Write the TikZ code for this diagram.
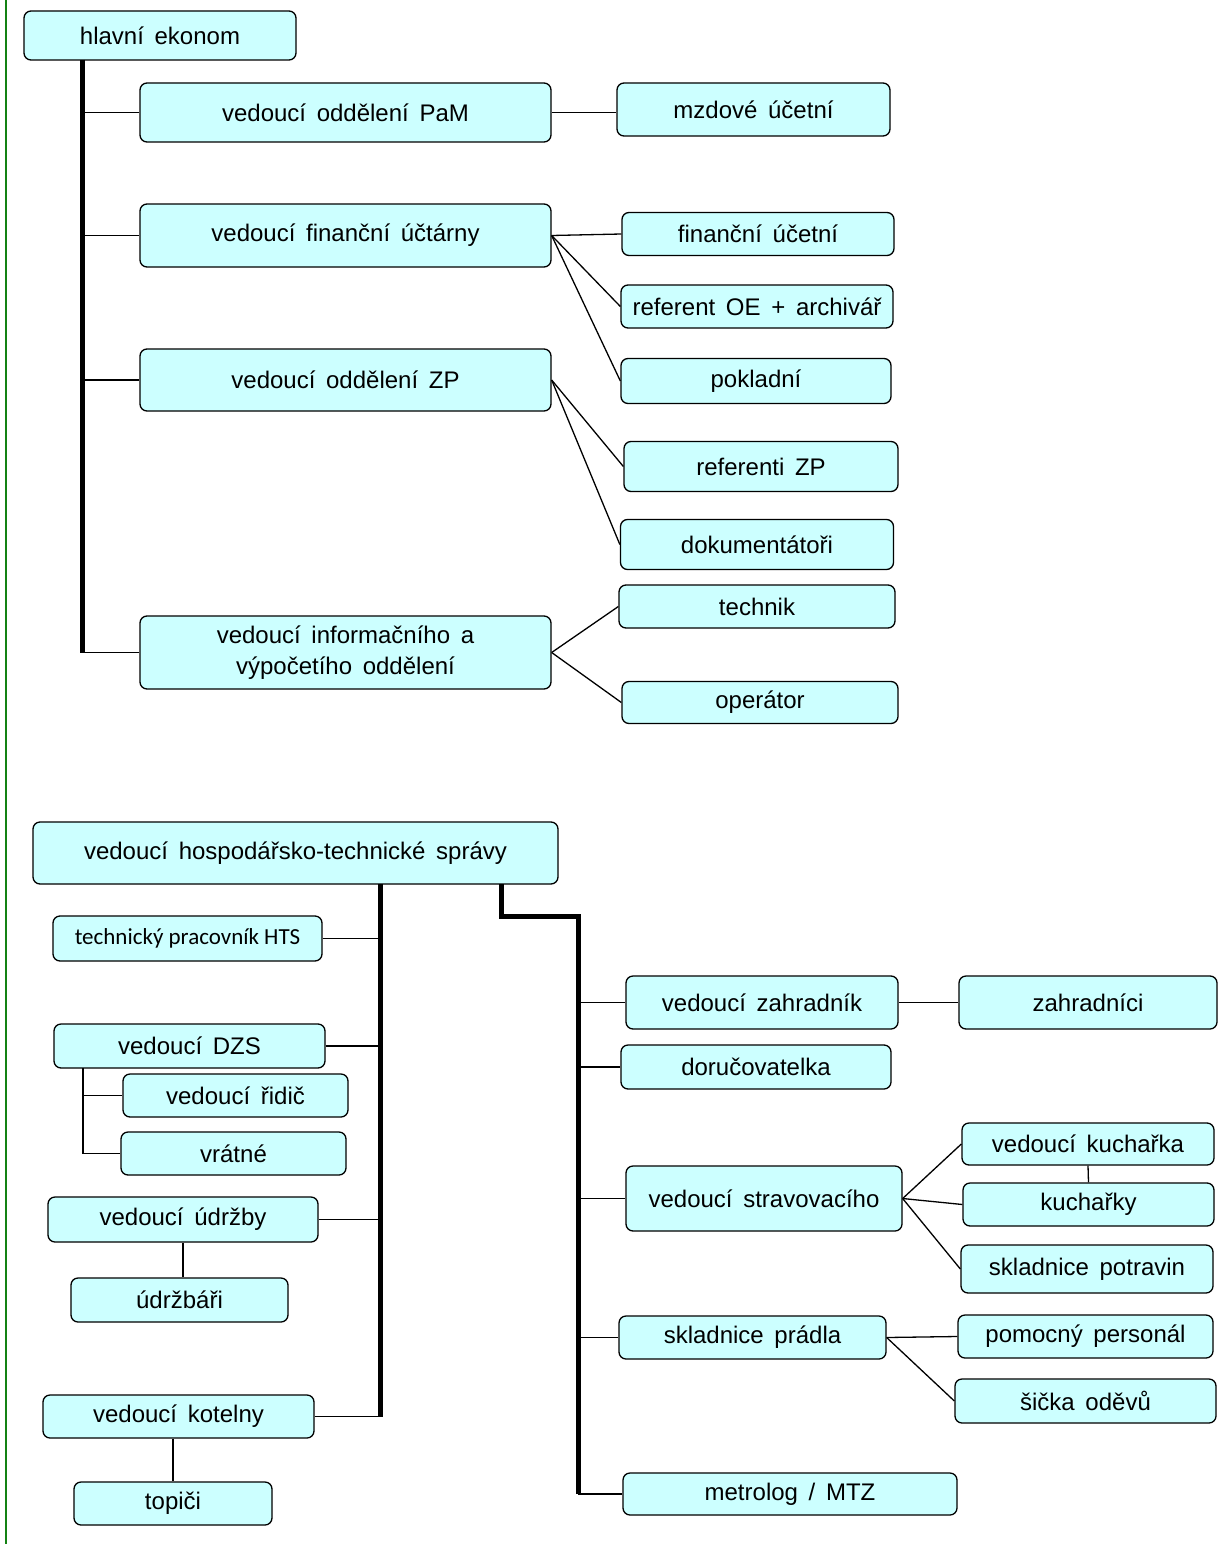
\documentclass[tikz,border=0pt]{standalone}
\usepackage{fontspec}
\setmainfont{Liberation Sans}[WordSpace=1.6]
\newfontfamily\htsfont{Carlito}
\usepackage{tikz}

\definecolor{boxfill}{RGB}{204,255,255}
\definecolor{rulegreen}{RGB}{20,130,20}

\tikzset{
	box/.style={draw, rectangle, rounded corners=7pt, fill=boxfill, line width=1.3pt,
		align=center, inner sep=0pt, font=\fontsize{24}{31}\selectfont},
	bus/.style={line width=5pt},
	link/.style={line width=1.3pt}
}

\begin{document}
\begin{tikzpicture}[x=1pt, y=-1pt]
			\useasboundingbox (0,0) rectangle (1229,1544);
			\draw[rulegreen, line width=2pt] (6,0) -- (6,1544);

			% hlavni ekonom
			\node[box, minimum width=272pt, minimum height=49pt] (ekonom) at (160,35.5) {hlavní ekonom};
			\node[box, minimum width=411pt, minimum height=59pt] (pam) at (345.5,112.5) {vedoucí oddělení PaM};
			\node[box, minimum width=273pt, minimum height=53pt] (mzdove) at (753.5,109.5) {mzdové účetní};
			\node[box, minimum width=411pt, minimum height=63pt] (uctarna) at (345.5,235.5) {vedoucí finanční účtárny};
			\node[box, minimum width=272pt, minimum height=43pt] (fucetni) at (758,234) {finanční účetní};
			\node[box, minimum width=272pt, minimum height=43pt] (referent) at (757,306.5) {referent OE + archivář};
			\node[box, minimum width=270pt, minimum height=45pt] (pokladni) at (756,381) {pokladní};
			\node[box, minimum width=411pt, minimum height=62pt] (zp) at (345.5,380) {vedoucí oddělení ZP};
			\node[box, minimum width=274pt, minimum height=50pt] (refzp) at (761,466.5) {referenti ZP};
			\node[box, minimum width=273pt, minimum height=50pt] (dokum) at (757,544.5) {dokumentátoři};
			\node[box, minimum width=411pt, minimum height=73pt] (info) at (345.5,652.5) {vedoucí informačního a\\výpočetího oddělení};
			\node[box, minimum width=276pt, minimum height=43pt] (technik) at (757,606.5) {technik};
			\node[box, minimum width=276pt, minimum height=42pt] (operator) at (760,702.5) {operátor};

			\coordinate (bus1) at (82,60);
			\draw[bus] (bus1) -- (bus1 |- info.west);
			\draw[link] (pam.west -| bus1) edge (pam.west)
				(uctarna.west -| bus1) edge (uctarna.west)
				(zp.west -| bus1) edge (zp.west)
				(info.west -| bus1) edge (info.west)
				(pam.east) edge (pam.east -| mzdove.west)
				(uctarna.east) edge (fucetni.west)
				(uctarna.east) edge (referent.west)
				(uctarna.east) edge (pokladni.west)
				(zp.east) edge (refzp.west)
				(zp.east) edge (dokum.west)
				(info.east) edge (technik.west)
				(info.east) edge (operator.west);

			% hospodarsko-technicka sprava
			\node[box, minimum width=525pt, minimum height=62pt] (hts) at (295.5,853) {vedoucí hospodářsko-technické správy};
			\node[box, minimum width=269pt, minimum height=45pt, font=\htsfont\fontsize{23}{28}\selectfont] (techhts) at (187.5,938.5) {technický pracovník HTS};
			\node[box, minimum width=271pt, minimum height=44pt] (dzs) at (189.5,1046) {vedoucí DZS};
			\node[box, minimum width=225pt, minimum height=43pt] (ridic) at (235.5,1095.5) {vedoucí řidič};
			\node[box, minimum width=225pt, minimum height=43pt] (vratne) at (233.5,1153.5) {vrátné};
			\node[box, minimum width=270pt, minimum height=45pt] (udrzby) at (183,1219.5) {vedoucí údržby};
			\node[box, minimum width=217pt, minimum height=44pt] (udrzbari) at (179.5,1300) {údržbáři};
			\node[box, minimum width=271pt, minimum height=43pt] (kotelny) at (178.5,1416.5) {vedoucí kotelny};
			\node[box, minimum width=198pt, minimum height=43pt] (topici) at (173,1503.5) {topiči};

			\node[box, minimum width=272pt, minimum height=53pt] (zahradnik) at (762,1002.5) {vedoucí zahradník};
			\node[box, minimum width=258pt, minimum height=53pt] (zahradnici) at (1088,1002.5) {zahradníci};
			\node[box, minimum width=270pt, minimum height=44pt] (dorucov) at (756,1067) {doručovatelka};
			\node[box, minimum width=276pt, minimum height=65pt] (stravov) at (764,1198.5) {vedoucí stravovacího};
			\node[box, minimum width=252pt, minimum height=42pt] (vkucharka) at (1088,1144) {vedoucí kuchařka};
			\node[box, minimum width=251pt, minimum height=43pt] (kucharky) at (1088.5,1204.5) {kuchařky};
			\node[box, minimum width=252pt, minimum height=48pt] (sklpotr) at (1087,1269) {skladnice potravin};
			\node[box, minimum width=267pt, minimum height=43pt] (pradla) at (752.5,1337.5) {skladnice prádla};
			\node[box, minimum width=255pt, minimum height=43pt] (pomocny) at (1085.5,1336.5) {pomocný personál};
			\node[box, minimum width=261pt, minimum height=44pt] (sicka) at (1085.5,1401) {šička oděvů};
			\node[box, minimum width=334pt, minimum height=42pt] (metrolog) at (790,1494) {metrolog / MTZ};

			\coordinate (bus2) at (380,884);
			\coordinate (bus3) at (501,884);
			\coordinate (bus3turn) at (578,916);
			\coordinate (dzsleg) at (83,1068);
			\draw[bus] (bus2) -- (bus2 |- kotelny.east);
			\draw[bus] (bus3) |- (bus3turn) -- (bus3turn |- metrolog.west);
			\draw[link] (techhts.east) edge (techhts.east -| bus2)
				(dzs.east) edge (dzs.east -| bus2)
				(udrzby.east) edge (udrzby.east -| bus2)
				(kotelny.east) edge (kotelny.east -| bus2)
				(dzsleg) edge (dzsleg |- vratne.west)
				(dzsleg |- ridic.west) edge (ridic.west)
				(dzsleg |- vratne.west) edge (vratne.west)
				(udrzby.south) edge (udrzby.south |- udrzbari.north)
				(topici.north |- kotelny.south) edge (topici.north)
				(zahradnik.west -| bus3turn) edge (zahradnik.west)
				(dorucov.west -| bus3turn) edge (dorucov.west)
				(stravov.west -| bus3turn) edge (stravov.west)
				(pradla.west -| bus3turn) edge (pradla.west)
				(metrolog.west -| bus3turn) edge (metrolog.west)
				(zahradnik.east) edge (zahradnici.west)
				(stravov.east) edge (vkucharka.west)
				(stravov.east) edge (kucharky.west)
				(stravov.east) edge (sklpotr.west)
				(vkucharka.south) edge (kucharky.north)
				(pradla.east) edge (pomocny.west)
				(pradla.east) edge (sicka.west);
		\end{tikzpicture}
\end{document}
